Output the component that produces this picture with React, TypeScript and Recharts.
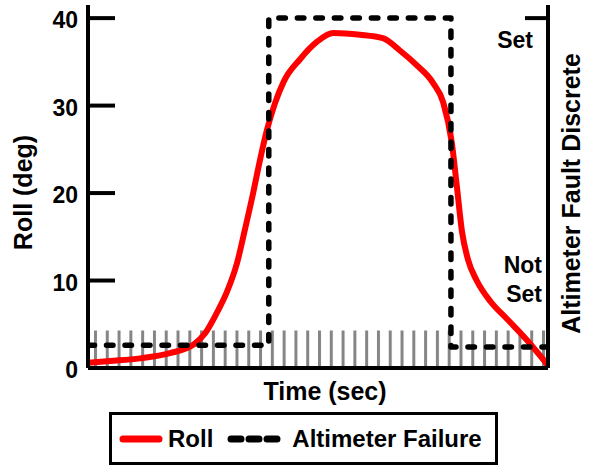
import React from 'react';
import { LineChart, Line, XAxis, YAxis, ReferenceArea, Legend } from 'recharts';

const rollTime = [0, 4.8, 11.3, 17.8, 23, 25.5, 28, 30.2, 32.4, 34.1, 35.9, 37.4, 38.9, 40.6, 42.6, 46.1, 49.8, 53.3, 59.1, 64.1, 67.8, 71.5, 75, 77.2, 79.1, 80.2, 81.3, 82.6, 84.5, 87.5, 91.1, 95.4, 100];
const rollValue = [0.6, 0.8, 1.1, 1.7, 2.7, 4.0, 6.3, 8.7, 12, 15.8, 20, 23.8, 27.2, 30.2, 32.8, 35.3, 37.3, 38.3, 38.1, 37.7, 36.3, 34.6, 32.6, 30.4, 25.7, 20.7, 15.6, 12.4, 10.0, 7.6, 5.6, 3.2, 0.3];

const altTime = [0, 39.3, 39.3, 78.9, 78.9, 100];
const altValue = [2.6, 2.6, 40, 40, 2.4, 2.4];

const rollTicks = [0, 10, 20, 30, 40];
const discreteTicks = [2.5, 40];
const hatchTop = 4.3;

const rollData = rollTime.map((t, i) => ({ t, v: rollValue[i] }));
const altData = altTime.map((t, i) => ({ t, v: altValue[i] }));

const FONT = '"Liberation Sans", Arial, sans-serif';

const LeftTick = (props: any) => {
  const { x, y, payload } = props;
  return (
    <g>
      {payload.value !== 0 && (
        <line x1={x} x2={x + 27} y1={y} y2={y} stroke="#000" strokeWidth={4} />
      )}
      <text x={x - 10} y={y + 2} textAnchor="end" dominantBaseline="central" fontFamily={FONT} fontWeight="bold" fontSize={23} fill="#000">
        {payload.value}
      </text>
    </g>
  );
};

const RightTick = (props: any) => {
  const { x, y, payload } = props;
  if (payload.value === 40) {
    return (
      <g>
        <line x1={x - 23} x2={x} y1={y} y2={y} stroke="#000" strokeWidth={4} />
        <text x={x - 15} y={y + 22} textAnchor="end" dominantBaseline="central" fontFamily={FONT} fontWeight="bold" fontSize={23} fill="#000">Set</text>
      </g>
    );
  }
  return (
    <g>
      <text x={x - 6} y={y - 81} textAnchor="end" dominantBaseline="central" fontFamily={FONT} fontWeight="bold" fontSize={23} fill="#000">Not</text>
      <text x={x - 6} y={y - 52} textAnchor="end" dominantBaseline="central" fontFamily={FONT} fontWeight="bold" fontSize={23} fill="#000">Set</text>
    </g>
  );
};

const TimeLabel = (props: any) => {
  const { viewBox } = props;
  const cx = viewBox.x + viewBox.width / 2 + 7;
  return (
    <text x={cx} y={viewBox.y + 23} textAnchor="middle" dominantBaseline="central" fontFamily={FONT} fontWeight="bold" fontSize={25} fill="#000">
      Time (sec)
    </text>
  );
};

const RollLabel = (props: any) => {
  const { viewBox } = props;
  const cx = 23;
  const cy = viewBox.y + viewBox.height / 2 + 6;
  return (
    <text x={cx} y={cy} transform={`rotate(-90 ${cx} ${cy})`} textAnchor="middle" dominantBaseline="central" fontFamily={FONT} fontWeight="bold" fontSize={25} fill="#000">
      Roll (deg)
    </text>
  );
};

const DiscreteLabel = (props: any) => {
  const { viewBox } = props;
  const cx = viewBox.x + 23;
  const cy = viewBox.y + viewBox.height / 2 + 7;
  return (
    <text x={cx} y={cy} transform={`rotate(-90 ${cx} ${cy})`} textAnchor="middle" dominantBaseline="central" fontFamily={FONT} fontWeight="bold" fontSize={25} fill="#000">
      Altimeter Fault Discrete
    </text>
  );
};

const LegendContent = (props: any) => {
  const { payload } = props;
  const items = [...(payload || [])].sort((a: any, b: any) => (a.value === 'Roll' ? -1 : b.value === 'Roll' ? 1 : 0));
  return (
    <div style={{ boxSizing: 'border-box', width: 389, height: 53, border: '3px solid #000', display: 'flex', alignItems: 'center', paddingLeft: 7, fontFamily: FONT, fontWeight: 'bold', fontSize: 24, color: '#000', background: '#fff', whiteSpace: 'nowrap' }}>
      {items.map((entry: any, i: number) => {
        const dashed = entry.value !== 'Roll';
        return (
          <div key={i} style={{ display: 'flex', alignItems: 'center', marginRight: 14, flexShrink: 0 }}>
            <svg width={dashed ? 56 : 44} height={12} style={{ marginRight: dashed ? 9 : 5 }}>
              {dashed ? (
                <line x1={4} x2={52} y1={6} y2={6} stroke="#000" strokeWidth={7} strokeLinecap="round" strokeDasharray="10 8" />
              ) : (
                <line x1={4} x2={40} y1={6} y2={6} stroke="#ff0000" strokeWidth={7} strokeLinecap="round" />
              )}
            </svg>
            <span style={{ lineHeight: '24px' }}>{entry.value}</span>
          </div>
        );
      })}
    </div>
  );
};

export default function App() {
  return (
    <div style={{ position: 'absolute', left: 0, top: 0, width: 589, height: 467, background: '#fff' }}>
      <svg width={0} height={0} style={{ position: 'absolute' }}>
        <defs>
          <pattern id="hatch" patternUnits="userSpaceOnUse" x={94} y={0} width={11.79} height={10}>
            <rect x={0} y={0} width={3} height={10} fill="#858585" />
          </pattern>
        </defs>
      </svg>
      <LineChart width={589} height={467} margin={{ top: 5, right: 0, bottom: 0, left: 0 }}>
        <XAxis
          type="number"
          dataKey="t"
          domain={[0, 100]}
          allowDataOverflow
          tick={false}
          tickLine={false}
          axisLine={{ stroke: '#000', strokeWidth: 4 }}
          height={46}
          label={<TimeLabel />}
        />
        <YAxis
          yAxisId="left"
          domain={[0, 41.5]}
          ticks={rollTicks}
          allowDataOverflow
          width={88}
          tickSize={0}
          tickMargin={0}
          tickLine={false}
          tick={<LeftTick />}
          axisLine={{ stroke: '#000', strokeWidth: 4 }}
          label={<RollLabel />}
        />
        <YAxis
          yAxisId="right"
          orientation="right"
          domain={[0, 41.5]}
          ticks={discreteTicks}
          allowDataOverflow
          width={41}
          tickSize={0}
          tickMargin={0}
          tickLine={false}
          tick={<RightTick />}
          axisLine={{ stroke: '#000', strokeWidth: 4 }}
          label={<DiscreteLabel />}
        />
        <ReferenceArea yAxisId="left" y1={0} y2={hatchTop} fill="url(#hatch)" fillOpacity={1} stroke="none" ifOverflow="visible" />
        <Line
          yAxisId="left"
          data={rollData}
          dataKey="v"
          name="Roll"
          type="monotone"
          stroke="#ff0000"
          strokeWidth={6}
          dot={false}
          activeDot={false}
          isAnimationActive={false}
        />
        <Line
          yAxisId="right"
          data={altData}
          dataKey="v"
          name="Altimeter Failure"
          type="linear"
          stroke="#000000"
          strokeWidth={5.5}
          strokeDasharray="6.5 12"
          strokeLinecap="round"
          strokeLinejoin="round"
          dot={false}
          activeDot={false}
          isAnimationActive={false}
        />
        <Legend content={<LegendContent />} wrapperStyle={{ left: 109, bottom: 2, width: 389, height: 53 }} />
      </LineChart>
    </div>
  );
}
